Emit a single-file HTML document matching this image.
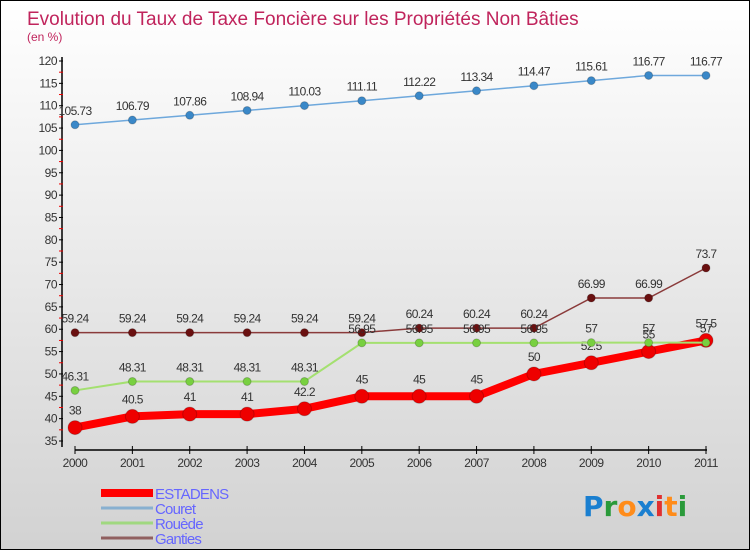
<!DOCTYPE html>
<html><head><meta charset="utf-8"><style>
body{margin:0;width:750px;height:550px;overflow:hidden;font-family:"Liberation Sans",sans-serif}
#wrap{position:relative;width:748px;height:548px;border:1px solid #000;background:linear-gradient(#ffffff,#d2d2d2)}
</style></head><body>
<div id="wrap">
<svg id="chart" width="748" height="548"></svg>
</div>
<script>
const years=[2000,2001,2002,2003,2004,2005,2006,2007,2008,2009,2010,2011];
const estadens=[38,40.5,41,41,42.2,45,45,45,50,52.5,55,57.5];
const couret=[105.73,106.79,107.86,108.94,110.03,111.11,112.22,113.34,114.47,115.61,116.77,116.77];
const rouede=[46.31,48.31,48.31,48.31,48.31,56.95,56.95,56.95,56.95,57,57,57];
const ganties=[59.24,59.24,59.24,59.24,59.24,59.24,60.24,60.24,60.24,66.99,66.99,73.7];
const yTicks=[35,40,45,50,55,60,65,70,75,80,85,90,95,100,105,110,115,120];
const NS="http://www.w3.org/2000/svg";
const svg=document.getElementById('chart');
const X=i=>74+i*(705-74)/11;
const Y=v=>440-(v-35)*(440-60)/85;
function el(t,a,p){const e=document.createElementNS(NS,t);for(const k in a)e.setAttribute(k,a[k]);(p||svg).appendChild(e);return e;}
function txt(x,y,s,a,p){const e=el('text',Object.assign({x:x,y:y},a),p);e.textContent=s;return e;}
// title
const t1=txt(26,24,'Evolution du Taux de Taxe Foncière sur les Propriétés Non Bâties',{'font-size':19,fill:'#c0245c'});

const t2=txt(26,40,'(en %)',{'font-size':12,fill:'#c0245c'});

// axes
const ya=el('line',{x1:61,y1:56,x2:61,y2:446,stroke:'#000','stroke-width':1.5});

const xa=el('line',{x1:74,y1:449,x2:706,y2:449,stroke:'#000','stroke-width':1.5});

yTicks.forEach(v=>{
 el('line',{x1:58,y1:Y(v),x2:62,y2:Y(v),stroke:'#000'});
 if(v<120) el('line',{x1:58,y1:Y(v+2.5),x2:62,y2:Y(v+2.5),stroke:'#e00'});
 const l=txt(56,Y(v)+4,String(v),{'font-size':12,fill:'#333','text-anchor':'end','letter-spacing':'-0.5'});
 
});
years.forEach((y,i)=>{
 el('line',{x1:X(i),y1:445,x2:X(i),y2:453,stroke:'#000'});
 const l=txt(X(i),466,String(y),{'font-size':12,fill:'#333','text-anchor':'middle','letter-spacing':'-0.5'});
 
});
function series(name,data,color,dot,w,r){
 const g=el('g',{});
 
 const p=el('polyline',{points:data.map((v,i)=>X(i)+','+Y(v)).join(' '),fill:'none',stroke:color,'stroke-width':w},g);
 
 data.forEach((v,i)=>{
  const c=el('circle',{cx:X(i),cy:Y(v),r:r,fill:dot,stroke:'rgba(0,0,0,0.2)'},g);
  
  const l=txt(X(i),Y(v)-(r+6),String(v),{'font-size':12,fill:'#333','text-anchor':'middle','letter-spacing':'-0.6'},g);
  
 });
}
series('estadens',estadens,'#ff0000','#ee0000',8,7);
series('couret',couret,'#6ea8dc','#3a88c8',1.5,4);
series('ganties',ganties,'#8a3a3a','#6a1010',1.5,4);
series('rouede',rouede,'#a4e070','#78d040',2,4);
// legend
const leg=[['ESTADENS','#ff0000',8],['Couret','#88b0d0',3],['Rouède','#a0d880',3],['Ganties','#906060',3]];
leg.forEach((d,i)=>{
 const g=el('g',{});
 
 const y=492+i*15;
 el('line',{x1:100,y1:y,x2:152,y2:y,stroke:d[1],'stroke-width':d[2]},g);
 txt(154,y+6,d[0],{'font-size':15,fill:'#6666ff','letter-spacing':'-0.8'},g);
});
// logo
const lg=el('text',{x:582,y:515,'font-size':28,'font-weight':'bold','font-family':'"DejaVu Sans",sans-serif'});

[['P','#1a7fd0'],['r','#2a9a3a'],['o','#ff8c1a'],['x','#1a7fd0'],['i','#e03030'],['t','#ff8c1a'],['i','#2a9a3a']].forEach(c=>{const s=el('tspan',{fill:c[1]},lg);s.textContent=c[0];});
</script>
</body></html>
